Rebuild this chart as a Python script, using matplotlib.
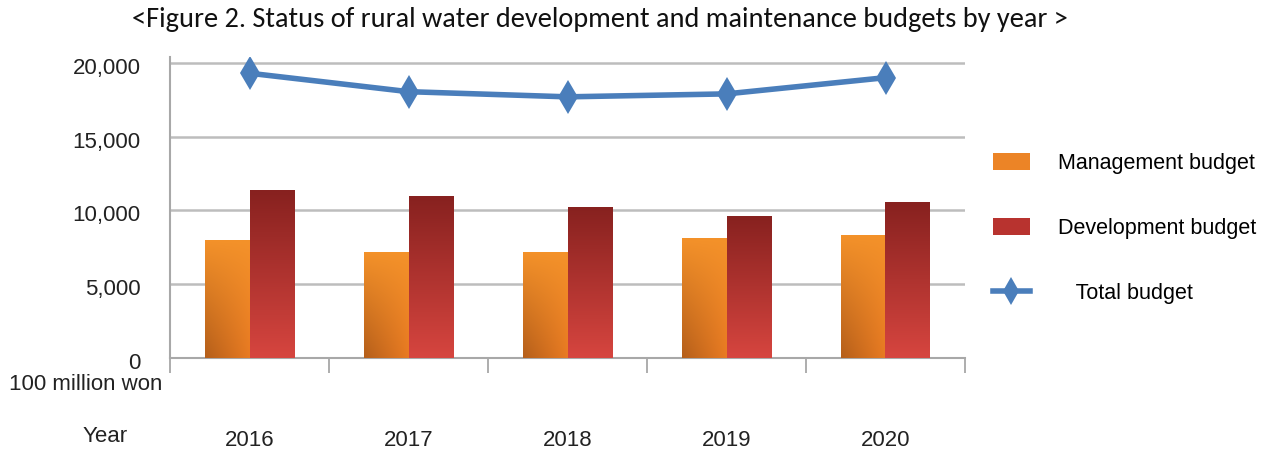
import numpy as np
import matplotlib
matplotlib.use("Agg")
import matplotlib.pyplot as plt
import matplotlib.transforms as mtransforms
from matplotlib.patches import Patch
from matplotlib.lines import Line2D
from matplotlib.colors import to_rgb

years = ["2016", "2017", "2018", "2019", "2020"]
management = [8000, 7200, 7200, 8150, 8350]
development = [11400, 11000, 10250, 9650, 10600]
total = [19300, 18050, 17700, 17900, 19000]
yticks = [0, 5000, 10000, 15000, 20000]
ytick_labels = ["0", "5,000", "10,000", "15,000", "20,000"]
legend_labels = ["Management budget", "Development budget", "   Total budget"]
title = "<Figure 2. Status of rural water development and maintenance budgets by year >"

plt.rcParams['font.family'] = ['Liberation Sans', 'DejaVu Sans']

W, H = 1274, 453
fig = plt.figure(figsize=(W / 100, H / 100), dpi=100)
ax = fig.add_axes([170 / W, 1 - 358 / H, (965 - 170) / W, (358 - 57) / H])

x = np.arange(len(years))
bw = 0.283
b1 = ax.bar(x - bw / 2, management, bw, facecolor='none', edgecolor='none', zorder=3)
b2 = ax.bar(x + bw / 2, development, bw, facecolor='none', edgecolor='none', zorder=3)


def gradient_fill(bars, top_c, bot_c, left_dark=0.0):
    top = np.array(to_rgb(top_c))
    bot = np.array(to_rgb(bot_c))
    ny, nx = 64, 32
    t = np.linspace(0, 1, ny)[:, None, None]  # 0 top -> 1 bottom
    s = np.linspace(0, 1, nx)[None, :, None]
    img = top * (1 - t) + bot * t
    img = img * (1 - left_dark * (1 - s) * t)
    img = np.clip(img, 0, 1)
    for p in bars:
        x0, y0 = p.get_x(), p.get_y()
        w, h = p.get_width(), p.get_height()
        im = ax.imshow(img * np.ones((ny, nx, 3)), extent=(x0, x0 + w, y0, y0 + h),
                       aspect='auto', zorder=3, interpolation='bilinear')
        im.set_clip_path(p)


gradient_fill(b1, '#F4922A', '#E87A22', left_dark=0.22)
gradient_fill(b2, '#87211F', '#D6453F')

ax.plot(x, total, color='#4A7EBB', lw=4, marker='d', markersize=17,
        markeredgewidth=0, zorder=4, solid_capstyle='round')

ax.set_xlim(-0.5, len(years) - 0.5)
ax.set_ylim(0, 20400)

ax.set_yticks(yticks)
ax.set_yticklabels(ytick_labels, fontsize=16, color='#222222')
ax.tick_params(axis='y', length=0, pad=21)
shift = mtransforms.ScaledTranslation(0, -3 / 100, fig.dpi_scale_trans)
for lab in ax.get_yticklabels():
    lab.set_transform(lab.get_transform() + shift)
ax.yaxis.grid(True, color='#BDBDBD', lw=1.8, zorder=0)
ax.set_axisbelow(True)

ax.set_xticks(x)
ax.set_xticklabels(years, fontsize=16, color='#222222')
ax.set_xticks(np.arange(len(years) + 1) - 0.5, minor=True)
ax.tick_params(axis='x', which='major', length=0, pad=52)
ax.tick_params(axis='x', which='minor', length=11, width=1.2, color='#A0A0A0')

for side in ['top', 'right']:
    ax.spines[side].set_visible(False)
for side in ['left', 'bottom']:
    ax.spines[side].set_color('#A8A8A8')
    ax.spines[side].set_linewidth(1.5)

fig.text(162 / W, 1 - 385 / H, "100 million won", fontsize=16, ha='right', va='center', color='#222222')
fig.text(128 / W, 1 - 437 / H, "Year", fontsize=16, ha='right', va='center', color='#222222')

handles = [Patch(facecolor='#EC8426', edgecolor='none'),
           Patch(facecolor='#B8332F', edgecolor='none'),
           Line2D([0], [0], color='#4A7EBB', lw=4, marker='d', markersize=14, markeredgewidth=0)]
fig.legend(handles, legend_labels, loc='upper left', bbox_to_anchor=(993 / W, 1 - 153 / H),
           frameon=False, fontsize=15.5, handlelength=1.7, handleheight=0.8, handletextpad=1.3,
           labelspacing=2.05, borderpad=0, borderaxespad=0)

t = fig.text(600 / W, 1 - 19 / H, title, fontsize=20, ha='center', va='center',
             family=['Carlito', 'DejaVu Sans'], color='#111111')
fig.canvas.draw()
wpx = t.get_window_extent().width
t.set_fontsize(20 * 934 / wpx)

fig.savefig('out.png', dpi=100, facecolor='white')
